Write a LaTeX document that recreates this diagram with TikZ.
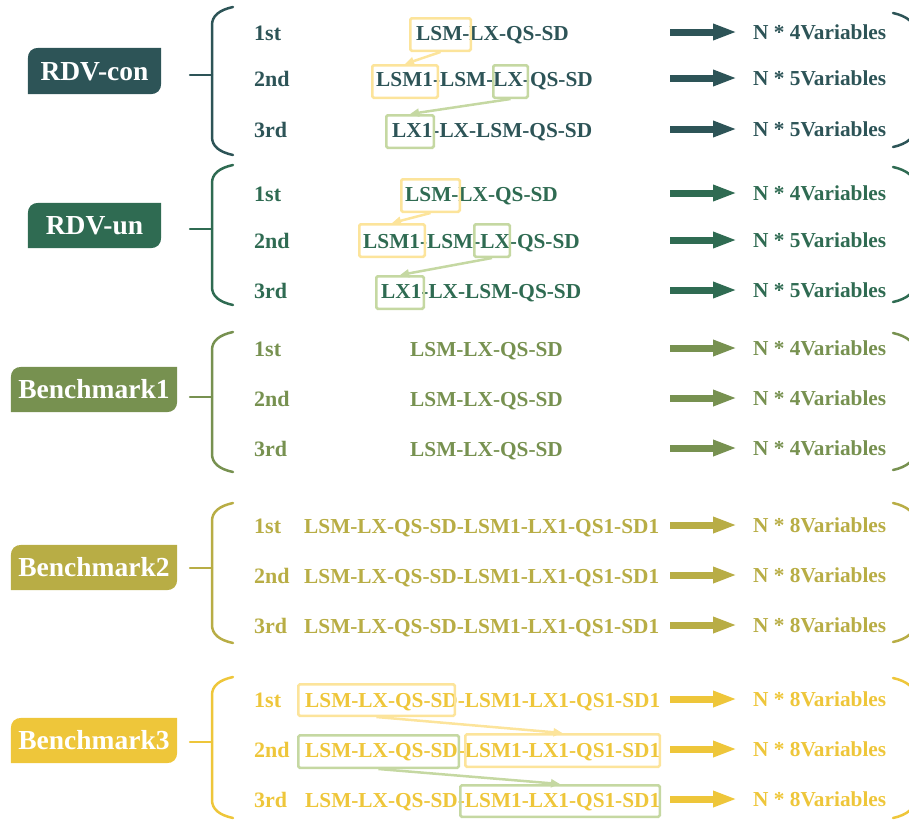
\documentclass[tikz,border=0pt]{standalone}
\usepackage{fontspec}
\setmainfont{Liberation Serif}
\usetikzlibrary{arrows.meta,calc,backgrounds}

\definecolor{cCon}{HTML}{2D5457}
\definecolor{cUn}{HTML}{2F6B52}
\definecolor{cBa}{HTML}{779150}
\definecolor{cBb}{HTML}{B8AD45}
\definecolor{cBc}{HTML}{EEC63A}
\definecolor{hlYellow}{HTML}{FCE49B}
\definecolor{hlGreen}{HTML}{C5D8A2}

% filled group label with rounded top-left and bottom-right corners
\newcommand\labelfill[2]{%
  \begin{scope}[on background layer]
    \fill[#2] (#1.south west) -- ([yshift=-11pt]#1.north west)
      .. controls ([yshift=-4pt]#1.north west) and ([xshift=4pt]#1.north west)
      .. ([xshift=11pt]#1.north west)
      -- (#1.north east) -- ([yshift=11pt]#1.south east)
      .. controls ([yshift=4pt]#1.south east) and ([xshift=-4pt]#1.south east)
      .. ([xshift=-11pt]#1.south east) -- cycle;
  \end{scope}}

% opening bracket with its stub: top, bottom, stub height, colour
\newcommand\openbrk[4]{%
  \draw[brk,#4] (233,#1) .. controls (219,#1+3) and (212,#1+9) .. (212,#1+18)
    -- (212,#2-18) .. controls (212,#2-9) and (219,#2-3) .. (233,#2);
  \draw[brk,#4] (190,#3) -- (212,#3);}

% closing bracket at the right edge: top, bottom, colour
\newcommand\shutbrk[3]{%
  \draw[brk,#3] (893,#1) .. controls (907,#1+3) and (916,#1+10) .. (917,#1+22)
    -- (917,#2-22) .. controls (916,#2-10) and (907,#2-3) .. (893,#2);}

% one row: name, y, colour, ordinal, sequence x, sequence, variable count
\newcommand\seqrow[7]{%
  \node[rowlab,text=#3] (#1o) at (254,#2) {#4};
  \node[seq,text=#3] (#1s) at (#5,#2) {#6};
  \node[seq,text=#3] (#1r) at (753,#2-1) {N * #7Variables};
  \draw[bigarrow,#3] ([xshift=-83pt]#1r.west) -- ([xshift=-16pt]#1r.west);}

\begin{document}
\begin{tikzpicture}[x=1pt,y=-1pt,
  seq/.style={font=\bfseries\fontsize{21.3}{21.3}\selectfont, inner sep=0pt,
    text height=14pt, text depth=0pt, anchor=west},
  rowlab/.style={font=\bfseries\fontsize{22}{22}\selectfont, inner sep=0pt,
    text height=14.5pt, text depth=0pt, anchor=west},
  grouplab/.style={font=\bfseries\fontsize{27.5}{27.5}\selectfont, text=white,
    inner sep=0pt, text height=18pt, text depth=0pt},
  brk/.style={line width=2.5pt, line cap=round},
  bigarrow/.style={line width=7pt, -{Triangle[length=24pt,width=15pt]}},
  hlbox/.style={draw, line width=2.5pt, rounded corners=1.5pt, inner sep=0pt,
    minimum height=32.5pt},
  hly/.style={hlbox, draw=hlYellow},
  hlg/.style={hlbox, draw=hlGreen},
  hlarrow/.style={line width=2.5pt, -{Triangle[length=9pt,width=8pt]}},
]
\path[use as bounding box] (0,0) rectangle (909,820);
\clip (0,0) rectangle (909,820);

% ---------------- RDV-con ----------------
\node[grouplab, minimum width=133pt, minimum height=46pt] (Lcon) at (94.5,71) {RDV-con};
\labelfill{Lcon}{cCon}
\openbrk{7}{155}{75}{cCon}
\shutbrk{13}{147}{cCon}
\seqrow{ca}{33}{cCon}{1st}{416}{LSM-LX-QS-SD}{4}
\seqrow{cb}{79}{cCon}{2nd}{376}{LSM1-LSM-LX-QS-SD}{5}
\seqrow{cc}{130}{cCon}{3rd}{392}{LX1-LX-LSM-QS-SD}{5}
\node[hly, minimum width=60.5pt] (cy1) at (440.5,34.5) {};
\node[hly, minimum width=65.5pt] (cy2) at (405,81.5) {};
\node[hlg, minimum width=34.5pt] (cg2) at (510.5,81.5) {};
\node[hlg, minimum width=47.5pt] (cg3) at (410,131.5) {};
\draw[hlarrow, hlYellow] (cy1.south) -- (cy2.north);
\draw[hlarrow, hlGreen] (cg2.south) -- (cg3.north);

% ---------------- RDV-un ----------------
\node[grouplab, minimum width=133pt, minimum height=45pt] (Lun) at (94.5,225.5) {RDV-un};
\labelfill{Lun}{cUn}
\openbrk{165}{305}{229}{cUn}
\shutbrk{167}{302}{cUn}
\seqrow{ua}{194}{cUn}{1st}{405}{LSM-LX-QS-SD}{4}
\seqrow{ub}{241}{cUn}{2nd}{363}{LSM1-LSM-LX-QS-SD}{5}
\seqrow{uc}{291}{cUn}{3rd}{381}{LX1-LX-LSM-QS-SD}{5}
\node[hly, minimum width=58.5pt] (uy1) at (430.5,195.5) {};
\node[hly, minimum width=65.5pt] (uy2) at (392,240.5) {};
\node[hlg, minimum width=35.5pt] (ug2) at (492,240.5) {};
\node[hlg, minimum width=47.5pt] (ug3) at (400,292.5) {};
\draw[hlarrow, hlYellow] (uy1.south) -- (uy2.north);
\draw[hlarrow, hlGreen] (ug2.south) -- (ug3.north);

% ---------------- Benchmark1 ----------------
\node[grouplab, minimum width=166pt, minimum height=45pt] (Lba) at (94,389.5) {Benchmark1};
\labelfill{Lba}{cBa}
\openbrk{332}{472}{397}{cBa}
\shutbrk{333}{470}{cBa}
\seqrow{aa}{349}{cBa}{1st}{410}{LSM-LX-QS-SD}{4}
\seqrow{ab}{399}{cBa}{2nd}{410}{LSM-LX-QS-SD}{4}
\seqrow{ac}{449}{cBa}{3rd}{410}{LSM-LX-QS-SD}{4}

% ---------------- Benchmark2 ----------------
\node[grouplab, minimum width=166pt, minimum height=45pt] (Lbb) at (94,567.5) {Benchmark2};
\labelfill{Lbb}{cBb}
\openbrk{503}{643}{568}{cBb}
\shutbrk{503}{642}{cBb}
\seqrow{ba}{526}{cBb}{1st}{304}{LSM-LX-QS-SD-LSM1-LX1-QS1-SD1}{8}
\seqrow{bb}{576}{cBb}{2nd}{304}{LSM-LX-QS-SD-LSM1-LX1-QS1-SD1}{8}
\seqrow{bc}{626}{cBb}{3rd}{304}{LSM-LX-QS-SD-LSM1-LX1-QS1-SD1}{8}

% ---------------- Benchmark3 ----------------
\node[grouplab, minimum width=166pt, minimum height=45pt] (Lbc) at (94,740.5) {Benchmark3};
\labelfill{Lbc}{cBc}
\openbrk{677}{818}{742}{cBc}
\shutbrk{678}{818}{cBc}
\seqrow{ta}{700}{cBc}{1st}{305}{LSM-LX-QS-SD-LSM1-LX1-QS1-SD1}{8}
\seqrow{tb}{750}{cBc}{2nd}{305}{LSM-LX-QS-SD-LSM1-LX1-QS1-SD1}{8}
\seqrow{tc}{800}{cBc}{3rd}{305}{LSM-LX-QS-SD-LSM1-LX1-QS1-SD1}{8}
\node[hly, minimum width=156.5pt, minimum height=31.5pt] (ty1) at (376.5,700) {};
\node[hlg, minimum width=160.5pt] (tg2) at (378.5,751.5) {};
\node[hly, minimum width=194.5pt] (ty2) at (562.5,750.5) {};
\node[hlg, minimum width=199.5pt, minimum height=31.5pt] (tg3) at (560,801) {};
\draw[hlarrow, hlYellow] (ty1.south) -- (ty2.north);
\draw[hlarrow, hlGreen] (tg2.south) -- (tg3.north);
\end{tikzpicture}
\end{document}
